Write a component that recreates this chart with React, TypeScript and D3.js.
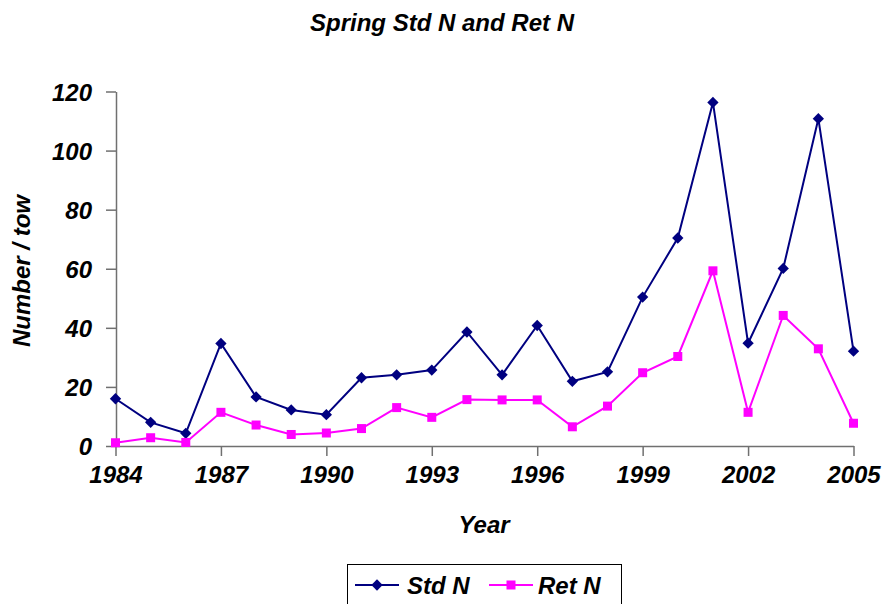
import React, { useEffect, useRef } from 'react';
import * as d3 from 'd3';

// values
const years = [1984, 1985, 1986, 1987, 1988, 1989, 1990, 1991, 1992, 1993, 1994,
  1995, 1996, 1997, 1998, 1999, 2000, 2001, 2002, 2003, 2004, 2005];
const stdN = [16, 8, 4.3, 34.7, 16.6, 12.2, 10.6, 23.1, 24.1, 25.7, 38.6,
  24.1, 40.8, 21.9, 25.1, 50.4, 70.4, 116.3, 34.8, 60.1, 110.8, 32.1];
const retN = [1.1, 2.8, 1.2, 11.4, 7.1, 3.9, 4.4, 5.9, 13.0, 9.7, 15.7,
  15.6, 15.6, 6.5, 13.5, 24.8, 30.3, 59.3, 11.4, 44.2, 32.9, 7.7];
const xTicks = [1984, 1987, 1990, 1993, 1996, 1999, 2002, 2005];
const yTicks = [0, 20, 40, 60, 80, 100, 120];

const FONT = '"Liberation Sans", Arial, sans-serif';
const NAVY = '#000080';
const MAGENTA = '#FF00FF';

function Chart() {
  const ref = useRef<SVGSVGElement | null>(null);

  useEffect(() => {
    const svg = d3.select(ref.current);
    svg.selectAll('*').remove();

    const x = d3.scaleLinear().domain([1984, 2005]).range([115.5, 853.5]);
    const y = d3.scaleLinear().domain([0, 120]).range([446, 91.5]);

    const g = svg.append('g');

    // y axis
    const yAxis = g.append('g')
      .attr('transform', 'translate(116,0)')
      .call(d3.axisLeft(y).tickValues(yTicks).tickSize(10).tickPadding(14).tickSizeOuter(0));
    // x axis
    const xAxis = g.append('g')
      .attr('transform', 'translate(0,446)')
      .call(d3.axisBottom(x).tickValues(xTicks).tickFormat(d3.format('d')).tickSize(10).tickPadding(10).tickSizeOuter(0));

    [yAxis, xAxis].forEach(a => {
      a.select('.domain').attr('stroke', '#707070').attr('stroke-width', 1.5);
      a.selectAll('.tick line').attr('stroke', '#707070').attr('stroke-width', 1.5);
      a.selectAll('.tick text')
        .attr('fill', '#000')
        .style('font-family', FONT)
        .style('font-size', '24px')
        .style('font-weight', 'bold')
        .style('font-style', 'italic');
    });
    yAxis.selectAll('.tick text').attr('dy', '0.36em');
    xAxis.selectAll('.tick text').attr('dy', '0.72em');

    const lineStd = d3.line<number>().x((d, i) => x(years[i])).y(d => y(d));

    g.append('path')
      .datum(stdN)
      .attr('d', lineStd)
      .attr('fill', 'none')
      .attr('stroke', NAVY)
      .attr('stroke-width', 2);
    g.append('path')
      .datum(retN)
      .attr('d', lineStd)
      .attr('fill', 'none')
      .attr('stroke', MAGENTA)
      .attr('stroke-width', 2);

    const diamond = d3.symbol().type(d3.symbolSquare).size(64)();
    g.selectAll('.std')
      .data(stdN)
      .enter().append('path')
      .attr('class', 'std')
      .attr('d', diamond)
      .attr('transform', (d, i) => `translate(${x(years[i])},${y(d)}) rotate(45)`)
      .attr('fill', NAVY);

    g.selectAll('.ret')
      .data(retN)
      .enter().append('rect')
      .attr('class', 'ret')
      .attr('x', (d, i) => x(years[i]) - 4.5)
      .attr('y', d => y(d) - 4.5)
      .attr('width', 9)
      .attr('height', 9)
      .attr('fill', MAGENTA);

    const textStyle = (t: any, size: number) => t
      .style('font-family', FONT)
      .style('font-size', size + 'px')
      .style('font-weight', 'bold')
      .style('font-style', 'italic')
      .attr('fill', '#000');

    textStyle(svg.append('text').attr('x', 442).attr('y', 31).attr('text-anchor', 'middle')
      .text('Spring Std N and Ret N'), 24);
    textStyle(svg.append('text').attr('x', 484).attr('y', 533).attr('text-anchor', 'middle')
      .text('Year'), 24);
    textStyle(svg.append('text')
      .attr('transform', 'translate(30,271) rotate(-90)')
      .attr('text-anchor', 'middle')
      .text('Number / tow'), 24);

    // legend
    const leg = svg.append('g');
    leg.append('rect')
      .attr('x', 347.5).attr('y', 564.5).attr('width', 274).attr('height', 50)
      .attr('fill', '#fff').attr('stroke', '#000').attr('stroke-width', 1);
    leg.append('line').attr('x1', 355).attr('x2', 399).attr('y1', 585).attr('y2', 585)
      .attr('stroke', NAVY).attr('stroke-width', 2);
    leg.append('path').attr('d', diamond).attr('transform', 'translate(377,585) rotate(45)').attr('fill', NAVY);
    textStyle(leg.append('text').attr('x', 407).attr('y', 594).text('Std N'), 24);
    leg.append('line').attr('x1', 489).attr('x2', 533).attr('y1', 585).attr('y2', 585)
      .attr('stroke', MAGENTA).attr('stroke-width', 2);
    leg.append('rect').attr('x', 506.5).attr('y', 580.5).attr('width', 9).attr('height', 9).attr('fill', MAGENTA);
    textStyle(leg.append('text').attr('x', 538).attr('y', 594).text('Ret N'), 24);
  }, []);

  return <svg ref={ref} width={884} height={604} style={{ position: 'absolute', left: 0, top: 0, background: '#fff' }} />;
}

export default function App() {
  return <Chart />;
}
